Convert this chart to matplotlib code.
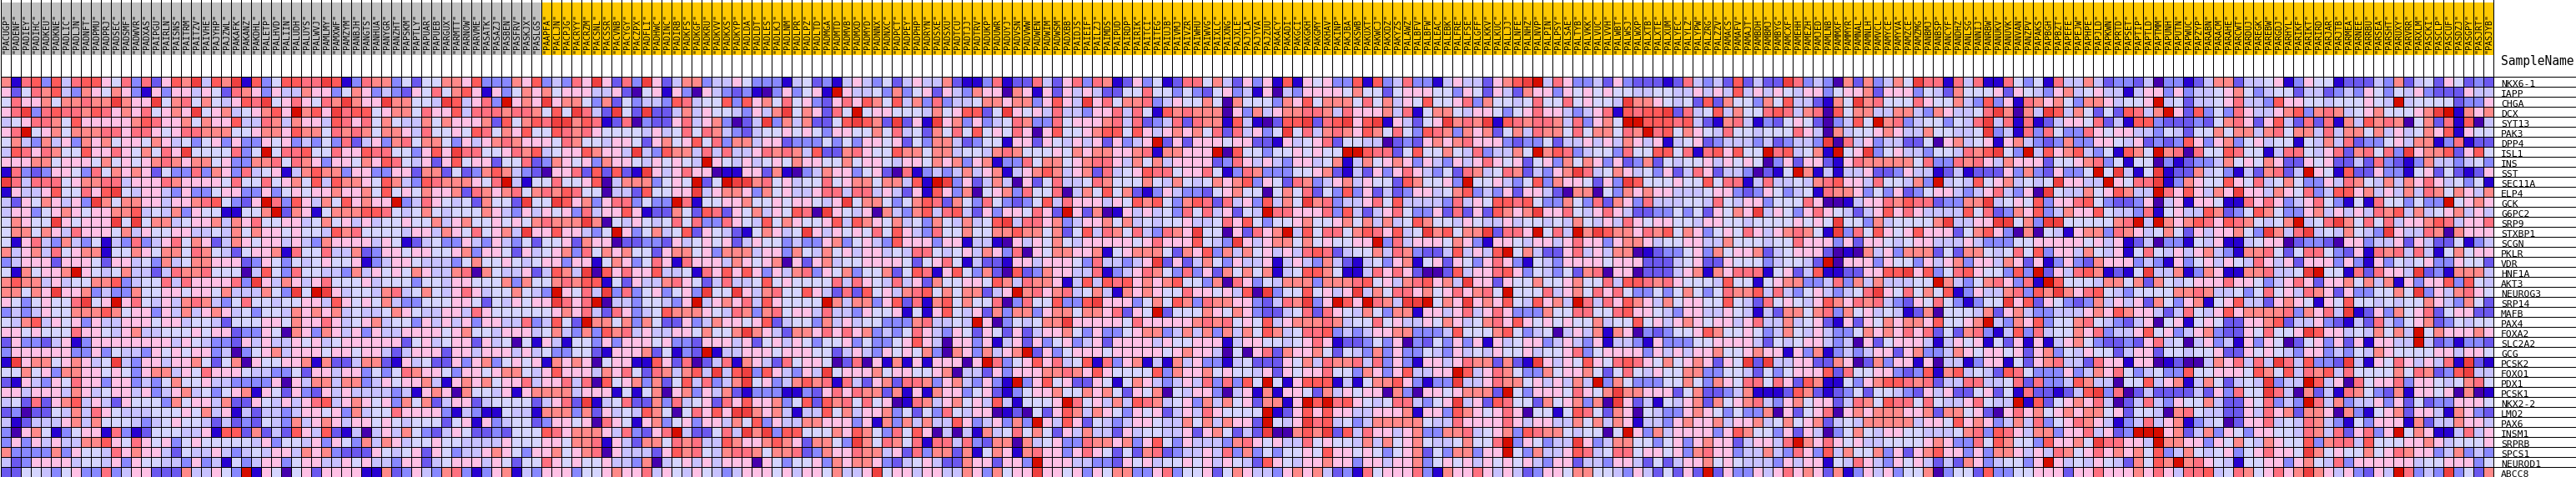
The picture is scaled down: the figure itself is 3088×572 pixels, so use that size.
import numpy as np
import matplotlib
matplotlib.use("Agg")
import matplotlib.pyplot as plt
from matplotlib.colors import ListedColormap

# GSEA style palette, one letter per level a..l
palette = ["#4500AD", "#2700D1", "#6B58EF", "#8888FF", "#C7C1FF", "#D5D5FF",
           "#FFC0E5", "#FF8989", "#FF7080", "#FF5A5A", "#EF4040", "#D60C00"]

genes = ["NKX6-1", "IAPP", "CHGA", "DCX", "SYT13", "PAK3", "DPP4", "ISL1", "INS", "SST",
         "SEC11A", "ELP4", "GCK", "G6PC2", "SRP9", "STXBP1", "SCGN", "PKLR", "VDR", "HNF1A",
         "AKT3", "NEUROG3", "SRP14", "MAFB", "PAX4", "FOXA2", "SLC2A2", "GCG", "PCSK2", "FOXO1",
         "PDX1", "PCSK1", "NKX2-2", "LMO2", "PAX6", "INSM1", "SRPRB", "SPCS1", "NEUROD1", "ABCC8"]

samples_grey = """PACUGP PADENF PADIEY PADIHC PADKEU PADKNE PADLIC PADLJN PADNFT PADPMU PADPRJ PADSEC
PADSMF PADWVR PADXAS PAIPGU PAIRLN PAISNS PAITRM PAITZV PAIVHE PAJYHP PAJZWL PAKAFK PAKANZ PAKDHL
PALETP PALHVD PALIIN PALUDH PALUYS PALWVJ PAMLMY PAMXWF PAMZYM PANBJH PANGTS PANHUA PANYGR PANZHT
PAPSKM PAPTLY PAPUAR PAPUEB PARGUX PARMTT PARNOW PARVME PASATK PASAZJ PASBEN PASFRV PASKJX PASLGS""".split()

samples_orange = """PAAPFA PACLJN PACPJG PACRYY PACRZM PACSNL PACSSR PACVNB PACYGY PACZPX PADFLI PADHWC
PADINC PADIRB PADKFS PADKGF PADKRU PADKVV PADKXS PADKYP PADLDA PADLDT PADLES PADLKJ PADLNM PADLPR
PADLPZ PADLTD PADMGA PADMTD PADMVB PADMXD PADMYD PADNNX PADNXC PADPCT PADPEY PADPHP PADRYN PADSXE
PADSXU PADTCU PADTJJ PADTRV PADUKP PADUWR PADUYJ PADVSN PADVWW PADWEN PADWIM PADWSM PADXBB PAIDJS
PAIEIF PAILZJ PAIMDS PAIPUD PAIRDP PAIRIK PAITCI PAITEG PAIUJB PAIVMJ PAIVZR PAIWHU PAIWVG PAIXLC
PAIXNG PAJXLE PAJYLA PAJYVA PAJZUU PAKACY PAKADI PAKGCI PAKGKH PAKGMY PAKHAV PAKINP PAKJBA PAKSWB
PAKUXT PAKWCJ PAKXDZ PAKYZS PALAWZ PALBFV PALBFW PALEAC PALEBK PALFRE PALFSE PALGFF PALKKV PALKUC
PALLJJ PALNFE PALNHZ PALNVP PALPIN PALPSY PALSAE PALTYB PALVKK PALVUC PALVVH PALWBT PALWSJ PALWXP
PALXTB PALXTE PALXUM PALYEC PALYLZ PALYPW PALZRG PALZZV PAMACS PAMAFV PAMAJT PAMBDH PAMBMJ PAMBYG
PAMCXF PAMEHH PAMEZH PAMJED PAMLNB PAMMXF PAMMYR PAMNAL PAMNLH PAMVCL PAMYCE PAMYVA PAMZCE PAMZMG
PANBMJ PANBSP PANCYF PANDHZ PANLSG PANNIJ PANRBW PANUKV PANUVK PANVAN PANZPV PAPAKS PAPBGH PAPBZT
PAPEFE PAPEJW PAPHPE PAPJLD PAPKWN PAPRTD PAPSET PAPTIP PAPTLD PAPTMM PAPUNH PAPUTN PAPWUC PAPZYP
PARABN PARACM PARAHE PARCWT PARDUJ PAREGK PAREBW PARGDJ PARHYL PARIKF PARIKT PARIRD PARJAR PARJTB
PARMEA PARNEE PARRBU PARSEA PARSHT PARUXY PARVRR PARXLM PASCKI PASCLP PASCUF PASDZJ PASGPY PASJRT
PASJYB""".split()

# cell levels, one list per stretch of 36 columns, one string per gene
block1 = [
"hbijdjeijjgfidicgjhkejhkbjdfjjiikjbd", "gcfihjedhgfhgdbgdggegfcihgdgeehggdfh",
"figghfhhihhkhggkfhifhfegjikfgigfihkh", "gikdijiihjighgifghgkfghefghjglhjgkij",
"efgiihfjggggghjigghfhggjeeihehggejig", "gilfghfhhhiigiigfgiihhhffghhgjhhfihi",
"fhedhegdhghfggfhgefdfgdgddgfgdedfdic", "ejigihffjggigfhfigkffffidflfiijffigg",
"ggghhfgggfhfgfghihghhfgddhhifihgdggf", "bidcdggfdifhghgcfddidhgdiefgbehjhhdg",
"kieiiifghhiiegggihggggfiffifghfjejhh", "bgeegjffigjkfeggedgddfggddgdfgfgghgg",
"ecgfhgegdkhfhhggegghijfdcglidjgehfjg", "eggdfghgfgghhjefehdgffbbffhlchgbfhhh",
"fhgffkgfgggkfkfhhefgghehgiffggefhfge", "fhhfhgeigggfhegffggeefehfhggfgffejhi",
"fbgiedhedfbedidegifhgcehgfggegedhggg", "hegheifghhbffhgfhhfihfecfgghbiffieeh",
"degggcgggfcggefdhefhhgggcdgfdfefgffg", "fbhfgghlgfefheeceihhifffaejfdiffeedh",
"hjhhegeffhhjdeffieiggggidkgehgegifff", "hhfhgkgghdeddhffggfggfheeehfdkflkgef",
"gfdfgffikfglgifegehihedfiffeffggejgf", "dedegffhhhjhfggdgeheghgefdffehghghef",
"fehjegfgdgeegggfggeffecfffggfhggigef", "ggfgfffiggfegheefffgfggcddgfahgdhgeg",
"cgddcegbdggggggggegfeddcgegeegfgefgg", "dggggggddgdfeedgfgfggdeadfghegggfggf",
"bkghhfghgefkedggegghfcfhagffgghbhcce", "ffhfgdhhggfgfdghhegfigggfeeddfcggegg",
"cbgedgfiggdggdedfhffgeeddddgagehhehh", "ggegggehgefggegdeghefdfghbgfcgdcgege",
"efcicghjegecgfffdhfggehccgfegegijegh", "cdaccfeheigfeeefffgfhegbeceedeggfgdh",
"ebceeeghehfffedefgffececdcfedheghgeg", "daghfbdfggbidbcfffeegbjjchcecjgejcbe",
"dgdgegeehhjgfigfgdfgfffffegdffegdgfd", "hddddhdgffeighggecfeegedefeggehghdcc",
"ecdggggeffegdgffeedgdebfdeggdfggeegf", "ccffedfgddideggcccheegfdlbgfafgcgggg"]
block2 = [
"ihhdfcffhhgjdddhgjdedigkgcidkgcehhde", "gdedcgfifhjgbgdfhghfgggeegcafgbgdage",
"ggkhhffekjegidlghgkghhfdhcfdeedjieff", "jfghhfiggjeiiihiihfjfkieckfckccehegf",
"ifhfeehfhggghcjfhjikkhjibciadccgiegh", "hfhhgeiffgfjifhgjffjihigffffegefifih",
"egdhifhhfdgeghihgggfihffeggfcghfgjfi", "jiiffdgjgkiiffgihjefggjhggekedjhheie",
"hgjifegcgjfggcfficdhgfgdhggfegfgfelg", "gddggchhcfcdhjhedcaggicjcjcbkgegigga",
"gfjhedjihhhgfilebffiffgjaehhhdfgflcf", "hfjfgfhgghcihghifhihjiffaeecjffggkeg",
"hggldeigfefchffckffkjghdgiidfddlibff", "jjifefhfefffhgedgegfgdieggjgbcchfcji",
"geffgffheghffgfgfhihhhkhafegfefifidd", "ffffeggehgfifghekggjggedflgdfhefjcgf",
"gegfbcefddgedgedfcffgchggaccddcgefgf", "cdggfggffghdggfcgefghdifhghffcghhfgd",
"bdeggfeeedfhffgfefggdggbfhgdfigbiggg", "egfgfhgeehiahfeegcejhekajgiggjeefbig",
"gefffdffeggfffhdhffhihjjbfcgeehigfce", "fehiefhfegigeffhfedlgfiekdidfgdfgdkf",
"gfheddfffggfcfegfggkigilaeedffedgleg", "eefhgfeeggeigffffffghgiecigdefjhhhgf",
"gheffdgegegdggeeidejfclhhfhdhfccgdeh", "dgeeggggfghffegggefhedhdjhiegeeggfhf",
"ggggcfgefggcgefafbgebffdgdgggfgddcgg", "ggecegggcggegggegefddffcbggghcfbdclb",
"hhcbgefccgdghdfgfgbhghgafggbbjgciace", "dfdfihggfdggfghhfegjgggehgifcihehjek",
"degfgghebghghfggieggieiajfghdhcfjeid", "eeedebghgahffegbghhhhegggbfbfhaghdge",
"gfgdhfhceggceffffcegickbeficchdiefgc", "effiggggdbedbbfeebhhhdhcgefejhfafigj",
"gfgfefffcfgbgdeffcdggfgaigfbghdfgdgg", "aegehfdcegfccdcfffjighhhgeidcgileccf",
"hehgeffgffeeeegfffggfhhibgechhfihiee", "cgfefgcgfdeeghgfdgghfghiageeecgjhife",
"geedggcefgggegfcffigfgffgeedhaefgege", "bbhcdgedhidbdghbedgggdffghggiegfegfe"]
block3 = [
"egfdddbefcdbegedfcegeehcbbdibcciecgi", "dcdbadgdfgblgeefdhdfgcgedhggahgbgcge",
"jdjghfifgdcgigjhfjehdideefhhghhdgjge", "fedgehkfhgciflfggfffehfgjjcfkgfgeiee",
"dacekdhehccfjkjhckcgbkghdgdefihddifg", "edceffgfgfdggffhfiefchfifjfgfigagjff",
"dhheggcdddfdfdggfgcfdhhecdffbggcgfeg", "ieegihihejcchigffjhhfhheffehihfffgfh",
"fegefgfhggffhfggfeggfhghdghbddifhhfg", "bbggchbadehggdfgcaibdedeheghbeghjheg",
"lkkhifgeffifghhfhhejblkdgceheagcfiee", "hhgdhfgeegiieiiegecgbjgdhafghdiffiae",
"gghffgfggfegkfhhfdfhjichfdifdcdfjeig", "cgfhegfjiakgfegahedhjeijecgdggfigclg",
"igfejfhgffgjejhgfhefdhfehefjkeiighde", "ecbfhgefkgegfgfifjgediffhffhhjhhfhcf",
"gcegffdeddghdfgedjgggdggbeebagegfhfe", "hhheggdhfehfgeggefeiifefgehgdiagfhhg",
"ehgfghagcgheffggggfcfgifbeccbggegggf", "jgjgdgehidgfhdffhcfjibgjfdhcajcdhgge",
"ieefjfgffffieigfeiegchffggfjheihhgbe", "fkgehiffjgecicjfgehijfhfhhceglhighie",
"hgiejgfffflhehhdgjcibhjfhffiadiffjdd", "eihdhifggeieedgffgbfbgjfegchdhhdghhf",
"ggfgjceffdhegeffdddhieefelgadfefhhkg", "fhkhgechhgigighdedfigedgfcgfcgcegghf",
"gegcfgegfdffgdfddfgjgeaggdgbegcgdfgd", "eegggfgggffcegedgfgfhdahgdheghlcgdfg",
"ibhgecifggfaciagbhbgbgggaglidfgjgief", "ejkdjgedgekfggghfggffghaeecgdggghhih",
"ehkfgdehjhibiecghciihdghedgdbldgjfgc", "hcbdddbbdcgigihhchbgbhggdfgcbdfgghff",
"igjgghdfjcjhififgabiheghfgejebfffgli", "gkkhghebeejfhegghdfcfdifeggabcafcgjh",
"ehfjdgeehhgggdgbhdheheejgdegdhdlgejg", "iekhkdjjfffhgjhfdifjgaeaebhefifhfcge",
"jhgghjhgchhfdkhfihfibiieidchhahefgdd", "hiihfhhicdhggihhegcidhhchbfhgbhiggdg",
"gggagfdffgdhghhgdcefgecchggcggdlggge", "degggfgeggfheegkfggeggeehgdhfggkggfg"]
block4 = [
"dihbcgdfbciifhecgdgbjbgfgddjbjdeiddb", "geccffiffdfdcfgdebgaedggggfhffcfgggf",
"kgifhhidegffhfahfffdhgjfhhhfifhegfjf", "dggieifbjhihhhagdheghhiiheigggheibfh",
"gghieicdeicihhbjebacjjkcijkgjkbgecfg", "ghjjfjgeghghficiegdfkfiehihgjhfifdji",
"egcgdeglcgcgggfggccbgefgicffeeacdcgh", "ghhgghibhhggglajffdffgfgffllji" + "icfjff",
"hiigehfheggggcdigegedggefhbehfghgdge", "hciefgjiifggifbdihdddffghcbecgdgiged",
"fihfffhfehfefhghjdgfcihdeghegffcjhff", "hfjfhcbdgeddcfghffafhficfdjdgcecdgge",
"ggegfjhjfdhjiciegdjehfkhideegifjeeee", "chabgegefdifiegcfeliigggidjecegifddg",
"gghfhefeffgeefigjfdffghffghfhehefjhf", "jeihfiedihgkffagcighlejfiifhjigjefkh",
"gggggfgigggjfedkgeghhfhfgffggldieggg", "ghbfghhhfchgjdhehfgegeijiceffheihdcc",
"dieedegkcgcehfdgeegbegedhecbefdghbfg", "eibdegihfdidgchfhfhbefjjhfbbeigigcaa",
"jejijghghjffdhaigdfehhhdhhhijfgehijg", "fhebhghgffiggfgejakdffjfgegkehfiighf",
"jkgggdfhfjhdihhggdceihkdgljglihekklf", "hhgicgflcfffhgfhgdcceficigfehfdhhbgg",
"ggggfiggggghihifgfjeghhhiheffifgeegf", "dgddfghhdehehdhehfjhefiijdedegghhddd",
"egcggggegffgggbeggffefgigbccdfdgadcf", "ggfgggggfghggeafagichgghfcfedhdgddfe",
"jbidghbebhegddbefcccgfheihhieidgdbgg", "gjgffffjdhgghfgffegcgfggiffdhgdgjeeg",
"cgfbfhgedegeididjflfbgjjjbebfhhjgdbd", "hghfcgfhafeggdaegbhbggfchegfggahdagg",
"fgehejihefgdhehfgchhbgljlijgfefiiedf", "ehgfdgfgcegeigfffflbcgjgjggeeggghbgg",
"cfedeggfeehfhehggclfegkijefdehhhhhfe", "heecgeffeegcghfceckaahjhkcjeiggeghdd",
"ihhghdgjfdgeeedhigfgeeifgffehehfghfe", "igfcfchicdeegeidhdfdffgfjggfgfdfghcf",
"eddcgfgeffgfgegfecjgfegghggdggegghdf", "dgfhhddgidffgcfhgeedghghecdbifgggidb"]
block5 = [
"egeecghjkleigddecgdcccbciedecjceccki", "fdgfcgechggdgfgfgffeeffeegegejegegfe",
"fgidhffefiffifgffekhhgfefcjchffdhfje", "hfeggfdfgiggedegibjijjkciefjehffijie",
"khihkbjihiiheidghfll" + "jjjijecbhiebdcfg", "hdhghcfheihhfifhhfihlijfhgfeiffefffi",
"ghigggdcddfceegegehgegbefgcdeeedecde", "hfeideehflhjideffdiffjjfibijgjfflije",
"dgegigfgcfgdhfhgdgcdhcfeffgegfgfadgc", "fcihefihcedghkiefhgefdgceigceedacbfl",
"gdlffgedfjdhggfcgdkjfffgffjfiibeieef", "fhjdedgcggecahhafdhghggeeefggdcdgfde",
"diegfjjijfddhfdichgdieeeffeifeggdfff", "cicgcjhghkggifegigeccddfdfcgfhgkegfd",
"fegfeegeffefehfegeigfggffeggffeffffg", "jfhhkciiglfielhkjhhgihjfhgdfgfigeghi",
"fhgdbggfeggegiggdghhgeffggeehfffeffi", "ejegejlfheccgiegehhabcddfgdhfgghcefg",
"cgfdgigdbfedggggfgggcccefgccgfffdeff", "cjeggijgdfedfchiaggaccceghbhgiiibfgc",
"hekggcgffhffghffiejjihigfffejffbfghh", "gighiflfffieghfigifddfdfhfdfihhjeied",
"hgkghgjfejghelieigjhgehfggffjfecifgf", "egiegigdddhffiiffijggfedggeegfebechh",
"hgefhigjgfgfgffheffjfgeghgfggegieehe", "ejfffhjfdefaegehbhgadcdffgjhffgfdehf",
"dgdgbgefggdegedgbeedbgdddffggggecfef", "dgefegffgeffgidfggggdgegegghffghggbg",
"egihhchcbkgegfjgfijigfhfghgcgfkckeeg", "gljegihfddhfgghfcfifegffhhddffecfdfg",
"dkeegihhfgegeheldhfdddffhfdhgfiifigc", "fghhhclfdgggfigfhkhhgggcfhccdehbbbcj",
"gkegcjiffchfghdhakgcebfeghchfghiedgh", "djhgfgigaffbfjifchgafeddghgfdfddhagc",
"eiggggigeggeehfhehgbeedghgghegghefhf", "hhiefghdjihhfeffaflgdheggggdgjhffdgc",
"efhffildgfdeekgdehhffdfgdghggceggeil", "dhhdgglfdheegjiefiifggfgdhiggdeehedi",
"gfgegfgfgedggceedggecfcegghfgfeeedge", "hggigegecdggfhhffedgecfcgclcgddgegig"]
block6 = [
"dedahchdehfkiibieibbifdfbieehecddcea", "ggdfgghcgggdfechfffgcgfedghefgeebegg",
"ecbhfkhifffigffhedjdgbihghfdhhgeffgl", "hiajfhheehhedhgeefikhahekjehfcfcjieh",
"fcadejflhideffdfeikeibibceggficebjjd", "geaheffghgeehffeefkdebidifddigfggeed",
"edkaiegdeeccfaghefgbghedcdhddggfegcd", "fhblfgkdfgeedffeihjkfdlejghjedfbjhfl",
"ggcbgihhhhhfiddihigehgggcffghidfbffa", "hbebeegccdgeebcebcccgdhdcgddflfkebfk",
"ehijggeiffehdlefejfghefefkggeelgfiik", "fbihhgdfdgcdfggedegiedgakfeehfgjheel",
"igaabeggihjiicddhhkefgfjdggijfdccdga", "gigfecegjgigeeeejficdhgjdehggjfeedib",
"fgfkffdheffffhkeeggkkfhdkkfffffhilel", "hfbkdifjgfgjgggcfhjgdahafebghhdihgef",
"gggdgcggfefggeeegedddffgggggfgegbcea", "ggcabahegdhhhcfchhfefifjdggehfegbfif",
"eclagggdgffdgeghdggehgcgbdgdchgggded", "ejbbccggjjkgjdfijgffdjdlcgeijhbcbfke",
"ddeidheheeefflhedfhigdibljfffehhfhch", "fgedefikgfifhfjbdgeehidjhkhgijfedfff",
"egjhgihiedcgfifdbdffkgjcgfdcdhegegch", "fhidhfgefebchafffehcgheddeeeghgjhgge",
"fgcbgcgfhghhgjffghledhgjdffhifedcega", "egeddfhghgigicfchidbejdieffhgideegjf",
"ggedeagcfgggebegfgbfcgbgbeghfdccdcgi", "dhbdedeggcghddehgfggfgcghdfegffceggc",
"gcchgachdggbgaeebdggbfcghieeciggbgga", "ggjciffggdcdjbhjefecjifdddgdehgifdef",
"jhbbfdghjjihiceeiieeficiddejheeaffje", "hcbcdfcffedcgegccfgcfbiccbcejkdiacec",
"fggceihfjiififeegifeelbjcfghgieaceie", "fgiaghghhhgghchhfgcagighfghghhfgcffe",
"ghcefehhhhheggfjghgdeheidfgihgebdeie", "geadfhfeggffeeefhidjigehhdggiegcdlll",
"hgigfgeeffffghgddifjhffdjgghfkiiggel", "gdjehffhdgcghjggdgdhhgegeihfgighghfj",
"ggbfeigedgfgecechgdeffdglgefegfechfj", "hgchbdgegdffhadffcjddffgggcggiggghgi"]
block7 = [
"ddbcehhceefgbdgffbcccedhcefcgfcdc", "dgdeefghfdeffceecdedgfdfegdcccgee",
"efceefgieedjggffefffgfeleffffcddg", "lgcjdfdigeeghjdhihefghfffghklbhgh",
"cccdcfhigcgjecicibhejhihafhcibjae", "fecffhfhhehifhheiehhfhegefhgjbgff",
"cdjgdghdfgeffbfeheicddfgehhbdibcc", "hiaiffjiffbeiifegichifidkghhjcgjf",
"dbcddehfgfhgccgfgcce" + "cidcbdheedefd", "bcchefdbechicelgfbjccgddbfgcfcbcg",
"bdhgffjgfiefhfddgeihfehehgigefdfb", "igjgehgkggehgfidejjghegeheihfhgeh",
"egbggfbbigigdegifdbfbiffdfddlfghg", "fgeejhcdfjhfddghegegeihjehefghege",
"hghjigjihfefhlefikhfifiegghjieggi", "hfcgegghfdkheikefehfedkgeeihahggg",
"ddbfegbbefggacddcaggdeegcgeccfbde", "egeghedbhhifcfiifdcgbihieiebfhfgg",
"bgdfgegfeigegcgggdgdbgdfefgddgffc", "ehbdhgbbhhieefklffbiciggekcdbhhhe",
"fefgggiggfdegigcgghfhehbgdggjdjfe", "fhhiheefdfifgeihgcgddffhfkdgehigf",
"fdghbfgjeecghgfbgfjffefeffhgedhfc", "ceifegjghhhhidhgiekbcgdhfgicfggcc",
"fgbfgfccgghjceegdcbeciedfghcdfeff", "gdeghdccgfiffgkjggefehfhelfhggghg",
"efaegdebgdgfacfgdgcgbggeelecdbddc", "ffeffgccgfgfedggdedfehgffffggeggf",
"bcaaehgieiekiejddckebgfigegeibkcb", "ddjffgggfjhfjeihjeiffffhfihcdjkee",
"ghbehfcefekdeeljegaifggidggfefhif", "cccecgdiffkieahcebihfdchbggfgahab",
"dgffheccgfidedliehdeegdgcfcddgggf", "ahifeeccgeighchhgahdbfghcggebhgdc",
"ghbdefacggiefeihedbfdgggbhceehgge", "ghcehdgfdggffeiheicgidglfhgbbeieg",
"hhggdgfhfehgffjdhiiejfffgghgefffg", "dehfefgdfgiggfkhfgffhfgihggdehded",
"hlhigfebffggdghfeidggggggeffgggdf", "geiijefihfgighkhgegdcgelidedkdfch"]

blocks = [block1, block2, block3, block4, block5, block6, block7]

rows = ["".join(block[r] for block in blocks) for r in range(len(genes))]
levels = np.array([[ord(c) - ord("a") for c in row] for row in rows])
names = samples_grey + samples_orange

fig = plt.figure(figsize=(30.88, 5.72), dpi=100)
ax = fig.add_axes([0, 0, 1, 1])
ax.set_xlim(0, 3088)
ax.set_ylim(572, 0)
ax.axis("off")

cell = 12
left = 0.5
top = 91.5
xs = left + cell * np.arange(len(names) + 1)
ys = top + cell * np.arange(len(genes) + 1)

ax.pcolormesh(xs, ys, levels, cmap=ListedColormap(palette), vmin=-0.5, vmax=11.5,
              antialiased=False)

# sample header band
band_colors = ["#C0C0C0"] * len(samples_grey) + ["#FFC800"] * len(samples_orange)
ax.bar(xs[:-1], 63, width=cell, bottom=3, align="edge", color=band_colors, linewidth=0)

ax.vlines(xs, 0, ys[-1], color="black", linewidth=0.72, antialiased=False)
ax.hlines(ys, xs[0], 3088, color="black", linewidth=0.72, antialiased=False)

for x, name in zip(xs[:-1], names):
    ax.text(x + cell / 2 + 0.5, 64, '"' + name + '"', rotation=90, ha="center", va="bottom",
            family="DejaVu Sans Mono", fontsize=7.2, color="black")

for y, gene in zip(ys[1:], genes):
    ax.text(2998, y, gene, ha="left", va="baseline", family="DejaVu Sans Mono",
            fontsize=8.2, color="black")
ax.text(2998, 78, "SampleName", ha="left", va="baseline", family="DejaVu Sans Mono",
        fontsize=10.5, color="black")

fig.savefig("out.png", dpi=100, facecolor="white")
